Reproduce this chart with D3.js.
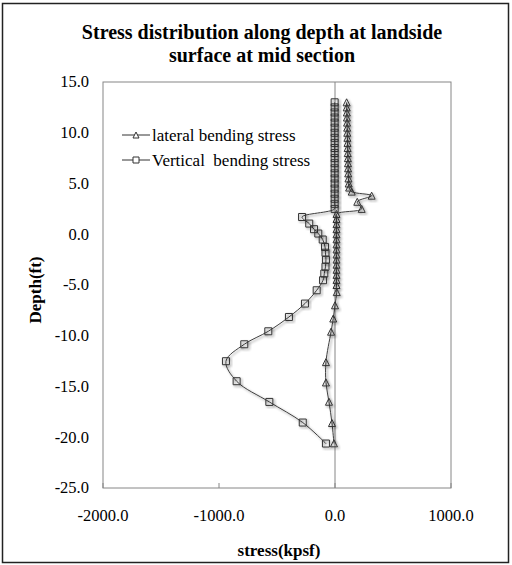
<!DOCTYPE html>
<html>
<head>
<meta charset="utf-8">
<script src="https://cdn.jsdelivr.net/npm/d3@7"></script>
<style>
    body { margin: 0; background: #fff; }
    svg text { font-family: "Liberation Serif", "Times New Roman", serif; fill: #000; }
</style>
</head>
<body>
<svg id="chart" width="512" height="565"></svg>
<script>
// lateral bending stress (triangles): depth in ft, stress in kpsf
const lateralDepth = [13.0, 12.5, 12.0, 11.5, 11.0, 10.5, 10.0, 9.5, 9.0, 8.5, 8.0, 7.5, 7.0, 6.5, 6.0, 5.5, 5.0, 4.6,
    4.2, 3.8, 3.2, 2.5,
    2.0, 1.5, 1.0, 0.5, 0.0, -0.5, -1.0, -1.5, -2.0, -2.5, -3.0, -3.5, -4.0, -4.5, -5.0,
    -5.7, -7.0, -8.3, -9.6, -12.6, -14.6, -16.5, -18.6, -20.6];
const lateralStress = [100, 101, 102, 103, 104, 105, 106, 107, 108, 109, 110, 111, 112, 113, 114, 116, 118, 122,
    144, 316, 192, 230,
    13, 13, 13, 13, 13, 13, 13, 13, 13, 13, 13, 13, 13, 13, 13,
    15, 0, -15, -34, -78, -78, -52, -26, -9];

// vertical bending stress (squares)
const verticalDepth = [13.0, 12.5, 12.0, 11.5, 11.0, 10.5, 10.0, 9.5, 9.0, 8.5, 8.0, 7.5, 7.0, 6.5, 6.0, 5.5, 5.0, 4.5,
    4.0, 3.5, 3.0, 2.5,
    1.7, 1.05, 0.5, 0.07, -0.52, -1.25, -1.82, -2.51, -3.2, -3.87, -4.53, -5.52, -6.83,
    -8.15, -9.56, -10.84, -12.51, -14.48, -16.52, -18.55, -20.62];
const verticalStress = [-3, -3, -3, -3, -3, -3, -3, -3, -3, -3, -3, -3, -3, -3, -3, -3, -3, -3,
    -3, -3, -3, -3,
    -284, -222, -181, -144, -106, -86, -82, -78, -82, -92, -103, -158, -259,
    -397, -575, -782, -940, -848, -566, -278, -78];

const depthTicks = [15, 10, 5, 0, -5, -10, -15, -20, -25];
const stressTicks = [-2000, -1000, 0, 1000];

const legendLabels = ["lateral bending stress", "Vertical  bending stress"];

/** Draws the depth / stress profile */
class StressChart {
    constructor(svg) {
        this.svg = svg;
        this.x = d3.scaleLinear().domain([-2000, 1000]).range([103, 451]);
        this.y = d3.scaleLinear().domain([-25, 15]).range([488, 82]);
        this.fmt = d3.formatLocale({decimal: ".", thousands: ",", grouping: [3], currency: ["", ""], minus: "-"}).format(".1f");
    }

    // triangle or square marker path centred on 0,0
    marker(kind, s) {
        let h = s / 2;
        if (kind === "tri") {
            return "M0," + (-h) + "L" + h + "," + h + "L" + (-h) + "," + h + "Z";
        }
        return "M" + (-h) + "," + (-h) + "H" + h + "V" + h + "H" + (-h) + "Z";
    }

    drawFrame() {
        let defs = this.svg.append("defs");
        let f = defs.append("filter").attr("id", "shadow")
            .attr("x", "-50%").attr("y", "-50%").attr("width", "200%").attr("height", "200%");
        f.append("feDropShadow").attr("dx", 1.5).attr("dy", 1.5).attr("stdDeviation", 1)
            .attr("flood-color", "#000").attr("flood-opacity", 0.45);

        this.svg.append("rect")
            .attr("x", 2.5).attr("y", 3.5).attr("width", 506).attr("height", 559)
            .attr("fill", "#fff").attr("stroke", "#222").attr("stroke-width", 1.5);

        this.svg.append("text")
            .attr("x", 262).attr("y", 39)
            .attr("text-anchor", "middle")
            .style("font-size", "20px").style("font-weight", "bold")
            .text("Stress distribution along depth at landside");
        this.svg.append("text")
            .attr("x", 262).attr("y", 62)
            .attr("text-anchor", "middle")
            .style("font-size", "20px").style("font-weight", "bold")
            .text("surface at mid section");
    }

    drawAxes() {
        let x = this.x, y = this.y, fmt = this.fmt;

        this.svg.append("rect")
            .attr("x", x(-2000)).attr("y", y(15))
            .attr("width", x(1000) - x(-2000)).attr("height", y(-25) - y(15))
            .attr("fill", "none").attr("stroke", "#868686").attr("stroke-width", 1);

        // vertical axis sits at stress = 0
        this.svg.append("line")
            .attr("x1", x(0)).attr("x2", x(0)).attr("y1", y(15)).attr("y2", y(-25))
            .attr("stroke", "#868686");

        this.svg.selectAll(".xtick")
            .data(stressTicks).enter().append("line")
            .attr("class", "xtick")
            .attr("x1", d => x(d)).attr("x2", d => x(d))
            .attr("y1", y(-25)).attr("y2", y(-25) - 5)
            .attr("stroke", "#868686");

        this.svg.selectAll(".xlab")
            .data(stressTicks).enter().append("text")
            .attr("class", "xlab")
            .attr("x", d => x(d)).attr("y", 521)
            .attr("text-anchor", "middle")
            .style("font-size", "16.5px")
            .text(d => fmt(d));

        this.svg.selectAll(".ylab")
            .data(depthTicks).enter().append("text")
            .attr("class", "ylab")
            .attr("x", 89).attr("y", d => y(d))
            .attr("dy", "0.33em")
            .attr("text-anchor", "end")
            .style("font-size", "16.5px")
            .text(d => fmt(d));

        this.svg.append("text")
            .attr("x", 279).attr("y", 556)
            .attr("text-anchor", "middle")
            .style("font-size", "17px").style("font-weight", "bold")
            .text("stress(kpsf)");

        this.svg.append("text")
            .attr("transform", "translate(41,290) rotate(-90)")
            .attr("text-anchor", "middle")
            .style("font-size", "17px").style("font-weight", "bold")
            .text("Depth(ft)");
    }

    drawSeries(depth, stress, kind) {
        let x = this.x, y = this.y;
        let pts = depth.map((d, i) => [stress[i], d]);

        let line = d3.line()
            .x(d => x(d[0])).y(d => y(d[1]))
            .curve(d3.curveCatmullRom.alpha(0.5));

        let g = this.svg.append("g");
        g.append("path")
            .datum(pts)
            .attr("d", line)
            .attr("fill", "none").attr("stroke", "#404040").attr("stroke-width", 1)
            .attr("filter", "url(#shadow)");

        g.selectAll("path.m")
            .data(pts).enter().append("path")
            .attr("class", "m")
            .attr("transform", d => "translate(" + x(d[0]) + "," + y(d[1]) + ")")
            .attr("d", this.marker(kind, 7))
            .attr("fill", "none").attr("stroke", "#333").attr("stroke-width", 1)
            .attr("filter", "url(#shadow)");
    }

    drawLegend() {
        let rows = [{k: "tri", y: 135}, {k: "sq", y: 160}];
        let g = this.svg.append("g");
        rows.forEach((r, i) => {
            g.append("line")
                .attr("x1", 122).attr("x2", 150).attr("y1", r.y).attr("y2", r.y)
                .attr("stroke", "#333");
            g.append("path")
                .attr("transform", "translate(136," + r.y + ")")
                .attr("d", this.marker(r.k, 6))
                .attr("fill", "#fff").attr("stroke", "#333");
            g.append("text")
                .attr("x", 152).attr("y", r.y).attr("dy", "0.33em")
                .style("font-size", "17px").style("white-space", "pre")
                .text(legendLabels[i]);
        });
    }
}

let chart = new StressChart(d3.select("#chart"));
chart.drawFrame();
chart.drawAxes();
chart.drawSeries(verticalDepth, verticalStress, "sq");
chart.drawSeries(lateralDepth, lateralStress, "tri");
chart.drawLegend();
</script>
</body>
</html>
